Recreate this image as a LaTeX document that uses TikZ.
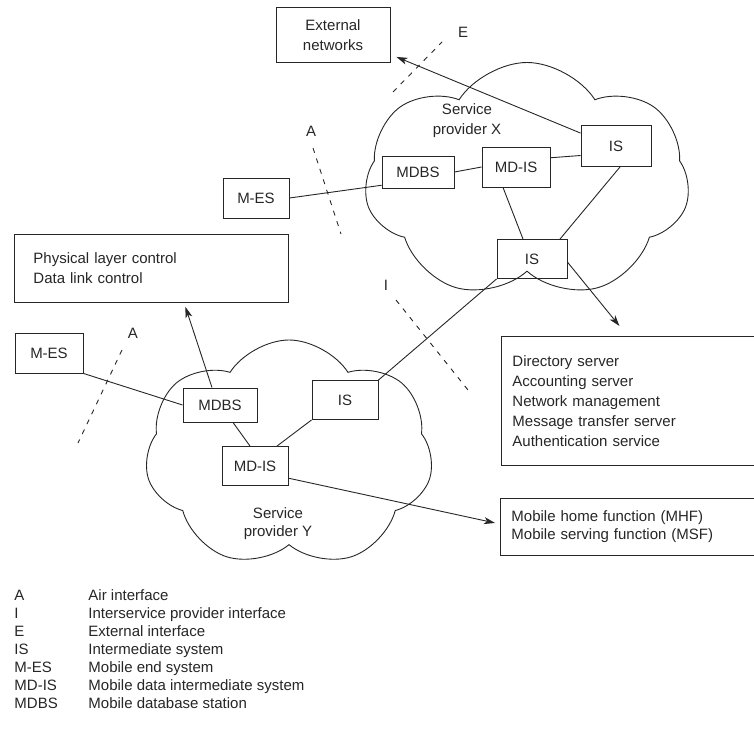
\documentclass[tikz,border=0pt]{standalone}
\usepackage{fontspec}
\setmainfont{Liberation Sans}
\usetikzlibrary{arrows.meta,shapes.symbols}

\begin{document}
\begin{tikzpicture}[x=1pt,y=-1pt,line width=0.9pt,color=black!85,
	every node/.style={font=\fontsize{15}{20}\selectfont},
	box/.style={draw,rectangle,inner sep=2pt},
	cloudnet/.style={draw,cloud,cloud puffs=7,cloud puff arc=115,cloud ignores aspect},
	iface/.style={dash pattern=on 5pt off 6pt},
	legend/.style={anchor=base west,inner xsep=0pt},
	>={Stealth[length=11pt,width=7pt,inset=3pt]}]
		\useasboundingbox (0,0) rectangle (754,738);
		% the two service provider clouds
		\node [cloudnet,minimum width=325,minimum height=237] (cloudx) at (527,181) {};
		\node [cloudnet,minimum width=288,minimum height=228] (cloudy) at (289,454) {};
		% service provider X
		\node [box,minimum width=114,minimum height=55,align=center] (ext) at (333,35) {External\\networks};
		\node [box,minimum width=70,minimum height=41] (isx1) at (616,146) {IS};
		\node [box,minimum width=68,minimum height=40] (mdisx) at (516,167) {MD-IS};
		\node [box,minimum width=72,minimum height=32] (mdbsx) at (418,172) {MDBS};
		\node [box,minimum width=70,minimum height=39] (isx2) at (532,259) {IS};
		\node [box,minimum width=66,minimum height=40] (mesx) at (256,198) {M-ES};
		\node [align=center] (labx) at (467,121) {Service\\provider X};
		% side boxes
		\node [box,anchor=north west,minimum height=68,text width=236,inner xsep=19,align=left] (phys) at (14,234) {Physical layer control\\Data link control};
		\node [box,anchor=north west,minimum height=129,text width=234,inner xsep=11,align=left] (dir) at (501,336) {Directory server\\Accounting server\\Network management\\Message transfer server\\Authentication service};
		\node [box,anchor=north west,minimum height=57,text width=234,inner xsep=11,align=left,font=\fontsize{15}{18}\selectfont] (mhf) at (500,498) {Mobile home function (MHF)\\Mobile serving function (MSF)};
		% service provider Y
		\node [box,minimum width=68,minimum height=40] (mesy) at (49,353) {M-ES};
		\node [box,minimum width=74,minimum height=34] (mdbsy) at (220,405) {MDBS};
		\node [box,minimum width=66,minimum height=39] (isy) at (345,400) {IS};
		\node [box,minimum width=66,minimum height=39] (mdisy) at (255,466) {MD-IS};
		\node [align=center,font=\fontsize{15}{18}\selectfont] (laby) at (278,524) {Service\\provider Y};
		% interfaces
		\node (lab-a1) at (311,131) {A};
		\node (lab-e) at (463,32) {E};
		\node (lab-i) at (386,285) {I};
		\node (lab-a2) at (133,333) {A};
		\coordinate (a1-top) at (313,148);
		\coordinate (a1-bot) at (341,234);
		\coordinate (e-bot) at (393,92);
		\coordinate (e-top) at (442,42);
		\coordinate (i-top) at (396,300);
		\coordinate (i-bot) at (468,390);
		\coordinate (a2-top) at (122,350);
		\coordinate (a2-bot) at (78,443);
		\draw [iface] (a1-top) -- (a1-bot);
		\draw [iface] (e-bot) -- (e-top);
		\draw [iface] (i-top) -- (i-bot);
		\draw [iface] (a2-top) -- (a2-bot);
		% links
		\draw (mesx.east) -- (mdbsx.200);
		\draw (mdbsx.east) -- (mdisx.west);
		\draw (mdisx.15) -- (isx1.195);
		\draw ([xshift=-13pt]mdisx.south) -- ([xshift=-9pt]isx2.north);
		\draw ([xshift=4pt]isx1.south) -- ([xshift=28pt]isx2.north);
		\draw [->] (isx1.160) -- ([shift={(6,-6)}]ext.south east);
		\draw [->] (isx2.-5) -- ([shift={(-10,-10)}]dir.north);
		\draw (isx2.south west) -- (isy.north east);
		\draw (mesy.south east) -- (mdbsy.west);
		\draw [->] ([xshift=-8pt]mdbsy.north) -- ([shift={(34,4)}]phys.south);
		\draw ([xshift=13pt]mdbsy.south) -- ([xshift=-5pt]mdisy.north);
		\draw (isy.south west) -- ([xshift=22pt]mdisy.north);
		\draw [->] (mdisy.-20) -- ([shift={(-5,-4)}]mhf.west);
		% legend
		\node [legend] (leg-a) at (14,600) {A};
		\node [legend] (leg-a-txt) at (88,600) {Air interface};
		\node [legend] (leg-i) at (14,618) {I};
		\node [legend] (leg-i-txt) at (88,618) {Interservice provider interface};
		\node [legend] (leg-e) at (14,636) {E};
		\node [legend] (leg-e-txt) at (88,636) {External interface};
		\node [legend] (leg-is) at (14,654) {IS};
		\node [legend] (leg-is-txt) at (88,654) {Intermediate system};
		\node [legend] (leg-mes) at (14,672) {M-ES};
		\node [legend] (leg-mes-txt) at (88,672) {Mobile end system};
		\node [legend] (leg-mdis) at (14,690) {MD-IS};
		\node [legend] (leg-mdis-txt) at (88,690) {Mobile data intermediate system};
		\node [legend] (leg-mdbs) at (14,708) {MDBS};
		\node [legend] (leg-mdbs-txt) at (88,708) {Mobile database station};
	\end{tikzpicture}
\end{document}
